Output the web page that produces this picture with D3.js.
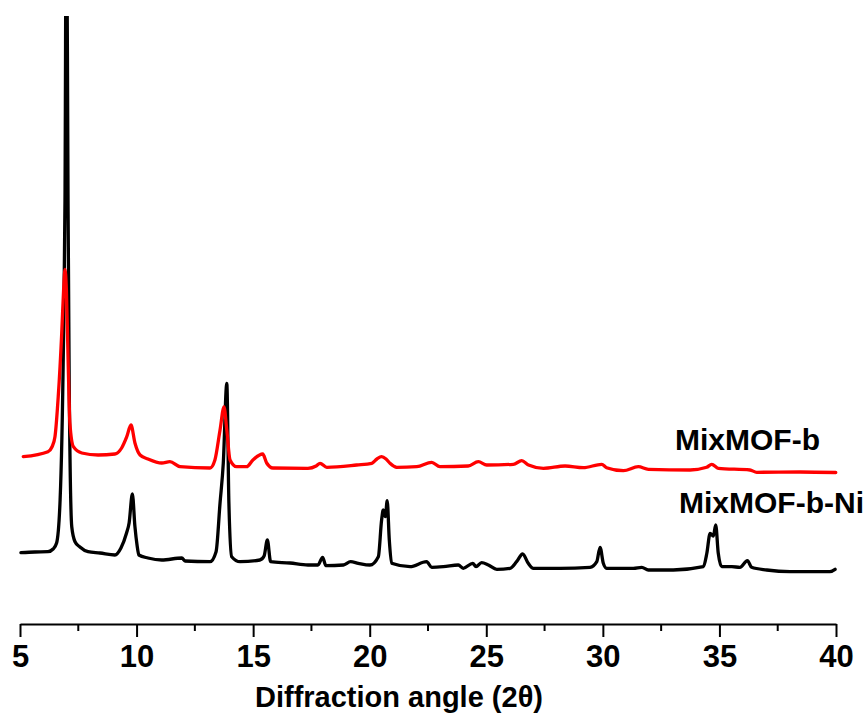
<!DOCTYPE html>
<html>
<head>
<meta charset="utf-8">
<style>
  body { margin: 0; background: #fff; }
  svg { display: block; }
  text { font-family: "Liberation Sans", Arial, sans-serif; font-weight: bold; }
</style>
</head>
<body>
<div id="chart"></div>
<script src="https://cdn.jsdelivr.net/npm/d3@7"></script>
<script>
// MixMOF-b-Ni (black) - 2theta / intensity (a.u.)
const twoThetaNi = [5.04, 5.64, 6.20, 6.42, 6.57, 6.72, 6.86, 6.93, 6.99, 7.06, 7.11, 7.22, 7.36, 7.57, 7.92,
  8.43, 9.07, 9.33, 9.57, 9.68, 9.82, 9.93, 10.02, 10.10, 10.49, 11.08, 11.94, 12.08, 13.15, 13.41,
  13.58, 13.72, 13.87, 13.96, 14.08, 14.44, 15.29, 15.47, 15.61, 15.75, 16.58, 17.35, 17.78, 17.98,
  18.12, 18.87, 19.18, 19.51, 20.01, 20.37, 20.51, 20.58, 20.67, 20.75, 20.84, 20.94, 21.73, 22.44,
  22.66, 23.16, 23.80, 24.01, 24.42, 24.56, 24.80, 25.09, 25.45, 26.02, 26.30, 26.56, 26.80, 27.02,
  28.16, 29.45, 29.74, 29.88, 30.02, 30.16, 31.31, 31.67, 31.95, 33.02, 34.31, 34.46, 34.60, 34.74,
  34.84, 34.95, 35.10, 35.53, 35.88, 36.20, 36.38, 37.03, 38.03, 39.03, 39.74, 39.96];
const intensityNi = [713, 720, 723, 750, 810, 1240, 2740, 4240, 7600, 4240, 2410, 973, 823, 770, 723,
  710, 690, 760, 910, 1010, 1300, 973, 790, 690, 660, 640, 660, 630, 623, 723,
  1210, 1610, 2407, 1210, 673, 623, 640, 680, 840, 623, 610, 590, 590, 667,
  583, 590, 623, 607, 590, 673, 1040, 1140, 1073, 1233, 840, 607, 573, 623,
  567, 573, 590, 557, 607, 573, 613, 590, 547, 557, 623, 700, 607, 557,
  557, 567, 623, 767, 607, 557, 557, 567, 540, 540, 573, 707, 907, 880,
  990, 707, 573, 573, 567, 633, 567, 540, 523, 523, 523, 547];

// MixMOF-b (red)
const twoThetaB = [5.14, 6.20, 6.37, 6.50, 6.64, 6.79, 6.87, 6.93, 6.99, 7.07, 7.14, 7.29, 7.65, 8.35,
  9.07, 9.36, 9.58, 9.76, 9.93, 10.15, 10.49, 11.08, 11.43, 11.86, 13.15, 13.36, 13.58, 13.75, 13.87,
  14.01, 14.29, 14.72, 14.99, 15.41, 15.58, 15.85, 17.35, 17.70, 17.87, 18.16, 19.44, 20.09, 20.31,
  20.51, 20.70, 20.87, 21.16, 22.02, 22.66, 23.01, 24.22, 24.66, 25.02, 26.16, 26.52, 26.81, 27.45,
  28.38, 29.16, 29.95, 30.16, 30.88, 31.52, 31.95, 33.74, 34.45, 34.67, 34.95, 36.31, 36.60, 38.46, 39.99];
const intensityB = [673, 723, 770, 873, 1273, 1910, 2340, 2547, 2340, 1573, 1010, 773, 710, 690,
  700, 760, 873, 990, 810, 690, 650, 610, 623, 573, 560, 640, 940, 1170, 940,
  640, 573, 573, 640, 700, 610, 560, 557, 580, 607, 567, 590, 607, 650,
  673, 650, 607, 567, 573, 617, 573, 580, 623, 590, 597, 633, 590, 557,
  580, 563, 597, 563, 533, 573, 547, 540, 567, 597, 557, 540, 517, 520, 515];
const offsetB = 1000; // vertical stacking offset of the red pattern

const xTicks = [5, 10, 15, 20, 25, 30, 35, 40];
const xMinorTicks = [7.5, 12.5, 17.5, 22.5, 27.5, 32.5, 37.5];

const width = 865, height = 722;
const svg = d3.select("#chart").append("svg")
  .attr("width", width)
  .attr("height", height);

const x = d3.scaleLinear().domain([5, 40]).range([20, 836]);
const y = d3.scaleLinear().domain([0, 6080]).range([624, 16]);

svg.append("clipPath").attr("id", "plotclip")
  .append("rect").attr("x", 0).attr("y", 16).attr("width", width).attr("height", 608);

const line = d3.line()
  .x(d => x(d[0]))
  .y(d => y(d[1]))
  .curve(d3.curveMonotoneX);

const plot = svg.append("g").attr("clip-path", "url(#plotclip)");

plot.append("path")
  .datum(d3.zip(twoThetaNi, intensityNi))
  .attr("fill", "none")
  .attr("stroke", "#000")
  .attr("stroke-width", 3.3)
  .attr("stroke-linejoin", "round")
  .attr("stroke-linecap", "round")
  .attr("d", line);

plot.append("path")
  .datum(d3.zip(twoThetaB, intensityB.map(v => v + offsetB)))
  .attr("fill", "none")
  .attr("stroke", "#ff0000")
  .attr("stroke-width", 3.3)
  .attr("stroke-linejoin", "round")
  .attr("stroke-linecap", "round")
  .attr("d", line);

// bottom axis
const axis = svg.append("g")
  .attr("transform", "translate(0,624)")
  .call(d3.axisBottom(x).tickValues(xTicks).tickSize(13).tickSizeOuter(0).tickPadding(8).tickFormat(d3.format("d")));
axis.select(".domain").attr("stroke-width", 2);
axis.selectAll(".tick line").attr("stroke-width", 2);
axis.selectAll(".tick text").attr("font-size", 31).attr("fill", "#000")
  .attr("font-family", "'Liberation Sans', Arial, sans-serif").attr("font-weight", "bold");

axis.selectAll(".minor")
  .data(xMinorTicks)
  .enter().append("line")
  .attr("class", "minor")
  .attr("x1", d => x(d)).attr("x2", d => x(d))
  .attr("y1", 0).attr("y2", 7)
  .attr("stroke", "#000")
  .attr("stroke-width", 2);

svg.append("text")
  .attr("x", 399)
  .attr("y", 707)
  .attr("text-anchor", "middle")
  .attr("font-size", 29)
  .text("Diffraction angle (2θ)");

// series labels
svg.append("text")
  .attr("x", 675).attr("y", 450)
  .attr("font-size", 30)
  .text("MixMOF-b");

svg.append("text")
  .attr("x", 679).attr("y", 513)
  .attr("font-size", 30)
  .text("MixMOF-b-Ni");
</script>
</body>
</html>
